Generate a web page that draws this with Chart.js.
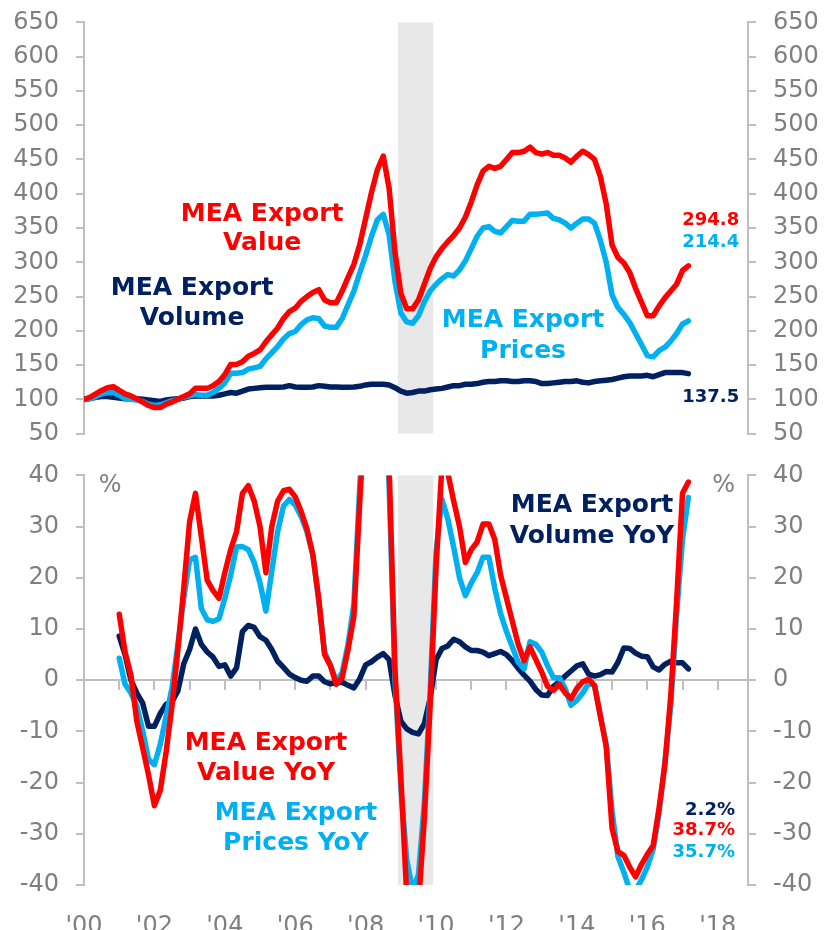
<!DOCTYPE html>
<html>
<head>
<meta charset="utf-8">
<script src="https://cdn.jsdelivr.net/npm/chart.js@4.4.1/dist/chart.umd.min.js"></script>
<style>
  html, body { margin: 0; background: #fff; overflow: hidden; }
  canvas { position: absolute; left: 0; }
  #top { top: -9px; }
  #bottom { top: 444px; }
</style>
</head>
<body>
<canvas id="top" width="825" height="474"></canvas>
<canvas id="bottom" width="825" height="486"></canvas>
<script>
// bi-monthly points, Jan 2000 .. Mar 2017 (levels) and Jan 2001 .. Mar 2017 (YoY)
const levelDates = [];
for (let m = 0; m <= 206; m += 2) levelDates.push(2000 + m / 12);
const yoyDates = [];
for (let m = 12; m <= 206; m += 2) yoyDates.push(2000 + m / 12);

const exportValue = [
  100, 103, 108, 113, 117, 118.5,
  113, 108, 105, 101, 96, 91,
  88, 88, 93, 96, 100, 104,
  108, 116, 116, 116, 120, 126,
  136, 151, 151, 155, 163, 167,
  172, 184, 194, 204, 218, 228,
  233, 243, 250, 256, 260, 245,
  241, 241, 258, 278, 297, 326,
  364, 402, 435, 455, 408, 315,
  255, 232, 232, 245, 268, 291,
  308, 320, 330, 339, 350, 366,
  388, 413, 433, 440, 437, 440,
  450, 460, 460, 462, 468, 460,
  458, 460, 456, 456, 452, 446,
  455, 462, 457, 450, 425, 385,
  325, 307, 299, 285, 262, 242,
  222, 222, 236, 248, 258, 268,
  288, 294.8
];
const exportPrices = [
  100, 101, 104, 108, 110, 110,
  106, 101, 100, 99, 97, 93,
  91, 92, 95, 98, 100, 103,
  105, 107, 106, 106, 110, 116,
  124, 138, 138, 139, 144, 146,
  148, 159, 168, 177, 188, 196,
  199, 209, 216, 219, 218, 207,
  205, 205, 218, 238, 258, 285,
  310, 338, 362, 370, 340, 272,
  226, 213, 211, 222, 242, 258,
  268, 276, 282, 280, 289, 302,
  320, 338, 350, 352, 345, 343,
  352, 361, 360, 360, 370, 370,
  371, 372, 364, 362, 357, 350,
  357, 363, 363, 357, 332, 300,
  252, 234, 224, 212, 196, 180,
  164, 162, 171, 176, 185, 196,
  210, 214.4
];
const exportVolume = [
  100, 101, 103, 104, 104, 103,
  102, 101, 101, 101, 100, 99,
  98, 97, 99, 100, 101, 102,
  104, 105, 105, 105, 105, 106,
  108, 110, 109, 112, 115, 116,
  117, 117.5, 117.5, 117.5, 118, 120,
  118, 117.5, 117.5, 118, 120, 119,
  118, 118, 117.5, 117.5, 118, 119,
  121, 122, 122, 122, 121, 117,
  112, 109, 110, 112, 112, 114,
  115, 116, 118, 120, 120, 122,
  122, 123, 125, 126, 126, 127,
  127, 126, 126, 127, 127, 126,
  123, 123, 124, 125, 126, 126,
  127, 125, 124, 126, 127, 128,
  129, 131, 133, 134, 134, 134,
  135, 133, 136, 139, 139, 139,
  139, 137.5
];

const valueYoY = [
  12.9, 5.5, 1, -8, -13.2, -18.5,
  -24.5, -21.5, -14, -5, 6, 18,
  31, 36.5, 28, 19.5, 17.5, 16,
  21, 25.5, 29, 36.5, 38, 35,
  30, 21, 30, 35, 37, 37.3,
  35.8, 33, 29.5, 24.5, 16, 5,
  2.8, -0.8, 0.5, 6, 12.5, 35,
  55, 68, 72, 62, 42, 2,
  -19, -42, -50, -44, -27, -4.7,
  22, 42, 40.5, 35, 30, 23,
  25.5, 27, 30.5, 30.5, 27.5, 20.5,
  16, 11.5, 7, 3.8, 6.5, 4,
  1.6, -1.2, -2, -0.8, -2.5, -3.6,
  -1.6, -0.3, 0.2, -1, -7, -13,
  -29, -33.5, -34.2, -36.5, -38.4, -36,
  -34, -32.3, -25, -16.5, -3, 15.5,
  36.5, 38.7
];
const pricesYoY = [
  4.3, -0.8, -2.5, -5, -9.9, -15.5,
  -16.5, -12.5, -7, -1.5, 7, 16,
  23.5, 24, 14, 11.8, 11.5, 12,
  16, 20.5, 26, 26.1, 25.5, 23,
  19, 13.5, 21.2, 29, 34, 35.3,
  34.2, 32, 29, 24.5, 15.5, 5.5,
  3, -0.2, 1.5, 7, 15, 38,
  58, 70, 72, 60, 38, 0,
  -21, -35, -41, -38, -24, -2,
  25, 35.4, 31.5, 26, 20, 16.5,
  19, 21, 24, 24, 18, 13,
  9.5, 6.5, 3.5, 2.2, 7.5, 7,
  5.5, 2.8, 0.5, 0.5, -1.6, -4.9,
  -3.9, -2.5, -0.6, -1, -7, -12.5,
  -25.6, -34.5, -37.5, -41, -41, -39,
  -36.5, -33, -26, -16, -5, 13,
  27.5, 35.7
];
const volumeYoY = [
  8.6, 5, 0, -2.5, -4.5, -9,
  -9, -6.5, -4.7, -4.2, -2.1, 3.2,
  6, 10, 7, 5.5, 4.5, 2.7,
  3, 0.8, 2.4, 9.5, 10.7, 10.3,
  8.5, 7.8, 6, 3.7, 2.5, 1.2,
  0.5, 0, -0.2, 0.8, 0.8, -0.3,
  -0.7, -0.5, -0.4, -1, -1.5, 0.3,
  3, 3.6, 4.5, 5.2, 4, -3,
  -8, -9.5, -10.2, -10.5, -8.5, -3.5,
  4, 6.2, 6.7, 8, 7.5, 6.5,
  5.8, 5.8, 5.5, 4.8, 5.2, 5.6,
  5, 3.8, 2.3, 1, -0.2, -1.8,
  -2.9, -3, -1.2, -0.3, 0.8, 1.8,
  2.8, 3.2, 1.2, 0.8, 1.1, 1.7,
  1.6, 3.5, 6.3, 6.2, 5.3, 4.7,
  4.6, 2.6, 2, 3.1, 3.7, 3.4,
  3.4, 2.2
];

const recession = [[2008.92, 2009.92]];
const topTicks = { min: 50, max: 650, step: 50 };
const bottomTicks = { min: -40, max: 40, step: 10 };
const xRange = { min: 2000, max: 2018.86 };

const RED = '#FF0000';
const BLUE = '#00B0F0';
const NAVY = '#002060';
const GREY_TEXT = '#7F7F7F';
const AXIS = '#BFBFBF';
const FONT = '"DejaVu Sans", Verdana, sans-serif';

const topLabels = [
  { lines: ['MEA Export', 'Value'], color: RED, x: 2005.06, y: 370.4, size: 25, lh: 29 },
  { lines: ['MEA Export', 'Volume'], color: NAVY, x: 2003.07, y: 262, size: 25, lh: 30 },
  { lines: ['MEA Export', 'Prices'], color: BLUE, x: 2012.47, y: 214.6, size: 25, lh: 31 },
  { lines: ['294.8'], color: RED, x: 2018.61, y: 361.6, size: 18, align: 'right' },
  { lines: ['214.4'], color: BLUE, x: 2018.61, y: 329.6, size: 18, align: 'right' },
  { lines: ['137.5'], color: NAVY, x: 2018.61, y: 102.4, size: 18, align: 'right' }
];
const bottomLabels = [
  { lines: ['%'], color: GREY_TEXT, x: 2000.74, y: 38.05, size: 24, weight: 'normal' },
  { lines: ['%'], color: GREY_TEXT, x: 2018.17, y: 38.05, size: 24, weight: 'normal' },
  { lines: ['MEA Export', 'Value YoY'], color: RED, x: 2005.17, y: -12.36, size: 25, lh: 30 },
  { lines: ['MEA Export', 'Prices YoY'], color: BLUE, x: 2006.02, y: -25.99, size: 25, lh: 30 },
  { lines: ['MEA Export', 'Volume YoY'], color: NAVY, x: 2014.43, y: 34.16, size: 25, lh: 31 },
  { lines: ['2.2%'], color: NAVY, x: 2018.49, y: -25.4, size: 18, align: 'right' },
  { lines: ['38.7%'], color: RED, x: 2018.49, y: -29.3, size: 18, align: 'right' },
  { lines: ['35.7%'], color: BLUE, x: 2018.49, y: -33.6, size: 18, align: 'right' }
];

// grey shaded period behind the lines
const bandPlugin = {
  id: 'band',
  beforeDatasetsDraw(chart) {
    const { ctx, chartArea, scales } = chart;
    ctx.save();
    ctx.fillStyle = '#E8E8E8';
    recession.forEach(([a, b]) => {
      const x1 = scales.x.getPixelForValue(a);
      const x2 = scales.x.getPixelForValue(b);
      ctx.fillRect(x1, chartArea.top, x2 - x1, chartArea.bottom - chartArea.top);
    });
    ctx.restore();
  }
};

const textPlugin = {
  id: 'panelText',
  afterDatasetsDraw(chart, args, opts) {
    const { ctx, scales } = chart;
    ctx.save();
    ctx.textBaseline = 'middle';
    (opts.items || []).forEach(it => {
      const px = scales.x.getPixelForValue(it.x);
      const py = scales.y.getPixelForValue(it.y);
      ctx.font = `${it.weight || 'bold'} ${it.size}px ${FONT}`;
      ctx.fillStyle = it.color;
      ctx.textAlign = it.align || 'center';
      it.lines.forEach((line, i) => ctx.fillText(line, px, py + i * (it.lh || 0)));
    });
    ctx.restore();
  }
};

function series(label, dates, values, color) {
  return {
    label: label,
    data: dates.map((d, i) => ({ x: d, y: values[i] })),
    borderColor: color,
    borderWidth: 5.5,
    pointRadius: 0,
    tension: 0,
    borderJoinStyle: 'round',
    borderCapStyle: 'round',
    fill: false
  };
}

function yAxis(side, t, width) {
  return {
    type: 'linear',
    position: side,
    min: t.min,
    max: t.max,
    afterFit: s => { s.width = width; },
    ticks: {
      stepSize: t.step,
      autoSkip: false,
      padding: 17,
      color: GREY_TEXT,
      font: { family: FONT, size: 24 }
    },
    grid: { drawOnChartArea: false, drawTicks: true, tickLength: 8, color: AXIS, lineWidth: 2 },
    border: { display: true, color: AXIS, width: 2 }
  };
}

Chart.defaults.animation = false;

new Chart(document.getElementById('top').getContext('2d'), {
  type: 'line',
  data: {
    datasets: [
      series('MEA Export Value', levelDates, exportValue, RED),
      series('MEA Export Prices', levelDates, exportPrices, BLUE),
      series('MEA Export Volume', levelDates, exportVolume, NAVY)
    ]
  },
  options: {
    responsive: false,
    devicePixelRatio: 1,
    layout: { padding: { top: 21, bottom: 17, left: 0, right: 0 } },
    plugins: { legend: { display: false }, tooltip: { enabled: false }, panelText: { items: topLabels } },
    scales: {
      x: { type: 'linear', min: xRange.min, max: xRange.max, display: false },
      y: yAxis('left', topTicks, 84),
      y2: yAxis('right', topTicks, 77)
    }
  },
  plugins: [bandPlugin, textPlugin]
});

new Chart(document.getElementById('bottom').getContext('2d'), {
  type: 'line',
  data: {
    datasets: [
      series('MEA Export Value YoY', yoyDates, valueYoY, RED),
      series('MEA Export Prices YoY', yoyDates, pricesYoY, BLUE),
      series('MEA Export Volume YoY', yoyDates, volumeYoY, NAVY)
    ]
  },
  options: {
    responsive: false,
    devicePixelRatio: 1,
    layout: { padding: { top: 24, bottom: 0, left: 0, right: 0 } },
    plugins: { legend: { display: false }, tooltip: { enabled: false }, panelText: { items: bottomLabels } },
    scales: {
      x: {
        type: 'linear',
        position: 'bottom',
        min: xRange.min,
        max: xRange.max,
        afterFit: s => { s.height = 45; },
        grid: { display: false },
        border: { display: false },
        ticks: {
          stepSize: 1,
          includeBounds: false,
          autoSkip: false,
          maxRotation: 0,
          padding: 19,
          color: GREY_TEXT,
          font: { family: FONT, size: 24 },
          callback: v => (Number.isInteger(v) && v % 2 === 0) ? "'" + String(v).slice(2) : ''
        }
      },
      xz: {
        type: 'linear',
        position: { y: 0 },
        min: xRange.min,
        max: xRange.max,
        ticks: { display: false, stepSize: 1, includeBounds: false },
        grid: { drawOnChartArea: false, drawTicks: true, tickLength: 9, color: AXIS, lineWidth: 2 },
        border: { display: true, color: AXIS, width: 2 }
      },
      y: yAxis('left', bottomTicks, 84),
      y2: yAxis('right', bottomTicks, 77)
    }
  },
  plugins: [bandPlugin, textPlugin]
});
</script>
</body>
</html>
